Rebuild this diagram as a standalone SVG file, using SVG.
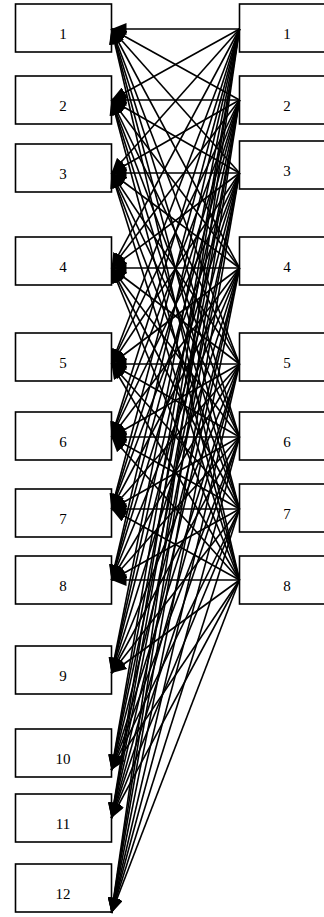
<svg xmlns="http://www.w3.org/2000/svg" width="324" height="917" viewBox="0 0 324 917">
<style>
.box rect{fill:#fff;stroke:#000;stroke-width:1.6}
.box text{font-family:"Liberation Serif","Times New Roman",serif;font-size:15px;text-anchor:middle;fill:#000}
#connectors line{stroke:#000;stroke-width:1.6;marker-end:url(#arr)}
</style>
<defs>
<marker id="arr" markerUnits="userSpaceOnUse" markerWidth="16" markerHeight="12" refX="15" refY="6" orient="auto">
<path d="M0,0 L15,6 L0,12 z" fill="#000"/>
</marker>
</defs>
<g id="nodes">
<g id="L1" class="box"><rect x="15.5" y="4" width="96" height="48"/><text x="63" y="39">1</text></g>
<g id="L2" class="box"><rect x="15.5" y="76" width="96" height="48"/><text x="63" y="111">2</text></g>
<g id="L3" class="box"><rect x="15.5" y="144" width="96" height="48"/><text x="63" y="179">3</text></g>
<g id="L4" class="box"><rect x="15.5" y="237" width="96" height="48"/><text x="63" y="272">4</text></g>
<g id="L5" class="box"><rect x="15.5" y="333" width="96" height="48"/><text x="63" y="368">5</text></g>
<g id="L6" class="box"><rect x="15.5" y="412" width="96" height="48"/><text x="63" y="447">6</text></g>
<g id="L7" class="box"><rect x="15.5" y="489" width="96" height="48"/><text x="63" y="524">7</text></g>
<g id="L8" class="box"><rect x="15.5" y="556" width="96" height="48"/><text x="63" y="591">8</text></g>
<g id="L9" class="box"><rect x="15.5" y="646" width="96" height="48"/><text x="63" y="681">9</text></g>
<g id="L10" class="box"><rect x="15.5" y="729" width="96" height="48"/><text x="63" y="764">10</text></g>
<g id="L11" class="box"><rect x="15.5" y="794" width="96" height="48"/><text x="63" y="829">11</text></g>
<g id="L12" class="box"><rect x="15.5" y="864" width="96" height="48"/><text x="63" y="899">12</text></g>
<g id="R1" class="box"><rect x="239.5" y="4" width="96" height="48"/><text x="287" y="39">1</text></g>
<g id="R2" class="box"><rect x="239.5" y="76" width="96" height="48"/><text x="287" y="111">2</text></g>
<g id="R3" class="box"><rect x="239.5" y="141" width="96" height="48"/><text x="287" y="176">3</text></g>
<g id="R4" class="box"><rect x="239.5" y="237" width="96" height="48"/><text x="287" y="272">4</text></g>
<g id="R5" class="box"><rect x="239.5" y="333" width="96" height="48"/><text x="287" y="368">5</text></g>
<g id="R6" class="box"><rect x="239.5" y="412" width="96" height="48"/><text x="287" y="447">6</text></g>
<g id="R7" class="box"><rect x="239.5" y="484" width="96" height="48"/><text x="287" y="519">7</text></g>
<g id="R8" class="box"><rect x="239.5" y="556" width="96" height="48"/><text x="287" y="591">8</text></g>
</g>
<g id="connectors">
<line x1="239.5" y1="29" x2="111.5" y2="29"/><line x1="239.5" y1="29" x2="111.5" y2="100"/><line x1="239.5" y1="29" x2="111.5" y2="173"/><line x1="239.5" y1="29" x2="111.5" y2="268"/><line x1="239.5" y1="29" x2="111.5" y2="364"/><line x1="239.5" y1="29" x2="111.5" y2="437"/><line x1="239.5" y1="29" x2="111.5" y2="509"/><line x1="239.5" y1="29" x2="111.5" y2="580"/><line x1="239.5" y1="29" x2="111.5" y2="673"/><line x1="239.5" y1="29" x2="111.5" y2="770"/><line x1="239.5" y1="29" x2="111.5" y2="818"/><line x1="239.5" y1="29" x2="111.5" y2="913"/>
<line x1="239.5" y1="100" x2="111.5" y2="29"/><line x1="239.5" y1="100" x2="111.5" y2="100"/><line x1="239.5" y1="100" x2="111.5" y2="173"/><line x1="239.5" y1="100" x2="111.5" y2="268"/><line x1="239.5" y1="100" x2="111.5" y2="364"/><line x1="239.5" y1="100" x2="111.5" y2="437"/><line x1="239.5" y1="100" x2="111.5" y2="509"/><line x1="239.5" y1="100" x2="111.5" y2="580"/><line x1="239.5" y1="100" x2="111.5" y2="673"/><line x1="239.5" y1="100" x2="111.5" y2="770"/><line x1="239.5" y1="100" x2="111.5" y2="818"/><line x1="239.5" y1="100" x2="111.5" y2="913"/>
<line x1="239.5" y1="173" x2="111.5" y2="29"/><line x1="239.5" y1="173" x2="111.5" y2="100"/><line x1="239.5" y1="173" x2="111.5" y2="173"/><line x1="239.5" y1="173" x2="111.5" y2="268"/><line x1="239.5" y1="173" x2="111.5" y2="364"/><line x1="239.5" y1="173" x2="111.5" y2="437"/><line x1="239.5" y1="173" x2="111.5" y2="509"/><line x1="239.5" y1="173" x2="111.5" y2="580"/><line x1="239.5" y1="173" x2="111.5" y2="673"/><line x1="239.5" y1="173" x2="111.5" y2="770"/><line x1="239.5" y1="173" x2="111.5" y2="818"/><line x1="239.5" y1="173" x2="111.5" y2="913"/>
<line x1="239.5" y1="268" x2="111.5" y2="29"/><line x1="239.5" y1="268" x2="111.5" y2="100"/><line x1="239.5" y1="268" x2="111.5" y2="173"/><line x1="239.5" y1="268" x2="111.5" y2="268"/><line x1="239.5" y1="268" x2="111.5" y2="364"/><line x1="239.5" y1="268" x2="111.5" y2="437"/><line x1="239.5" y1="268" x2="111.5" y2="509"/><line x1="239.5" y1="268" x2="111.5" y2="580"/><line x1="239.5" y1="268" x2="111.5" y2="673"/><line x1="239.5" y1="268" x2="111.5" y2="770"/><line x1="239.5" y1="268" x2="111.5" y2="818"/><line x1="239.5" y1="268" x2="111.5" y2="913"/>
<line x1="239.5" y1="364" x2="111.5" y2="29"/><line x1="239.5" y1="364" x2="111.5" y2="100"/><line x1="239.5" y1="364" x2="111.5" y2="173"/><line x1="239.5" y1="364" x2="111.5" y2="268"/><line x1="239.5" y1="364" x2="111.5" y2="364"/><line x1="239.5" y1="364" x2="111.5" y2="437"/><line x1="239.5" y1="364" x2="111.5" y2="509"/><line x1="239.5" y1="364" x2="111.5" y2="580"/><line x1="239.5" y1="364" x2="111.5" y2="673"/><line x1="239.5" y1="364" x2="111.5" y2="770"/><line x1="239.5" y1="364" x2="111.5" y2="818"/><line x1="239.5" y1="364" x2="111.5" y2="913"/>
<line x1="239.5" y1="437" x2="111.5" y2="29"/><line x1="239.5" y1="437" x2="111.5" y2="100"/><line x1="239.5" y1="437" x2="111.5" y2="173"/><line x1="239.5" y1="437" x2="111.5" y2="268"/><line x1="239.5" y1="437" x2="111.5" y2="364"/><line x1="239.5" y1="437" x2="111.5" y2="437"/><line x1="239.5" y1="437" x2="111.5" y2="509"/><line x1="239.5" y1="437" x2="111.5" y2="580"/><line x1="239.5" y1="437" x2="111.5" y2="673"/><line x1="239.5" y1="437" x2="111.5" y2="770"/><line x1="239.5" y1="437" x2="111.5" y2="818"/><line x1="239.5" y1="437" x2="111.5" y2="913"/>
<line x1="239.5" y1="509" x2="111.5" y2="29"/><line x1="239.5" y1="509" x2="111.5" y2="100"/><line x1="239.5" y1="509" x2="111.5" y2="173"/><line x1="239.5" y1="509" x2="111.5" y2="268"/><line x1="239.5" y1="509" x2="111.5" y2="364"/><line x1="239.5" y1="509" x2="111.5" y2="437"/><line x1="239.5" y1="509" x2="111.5" y2="509"/><line x1="239.5" y1="509" x2="111.5" y2="580"/><line x1="239.5" y1="509" x2="111.5" y2="673"/><line x1="239.5" y1="509" x2="111.5" y2="770"/><line x1="239.5" y1="509" x2="111.5" y2="818"/><line x1="239.5" y1="509" x2="111.5" y2="913"/>
<line x1="239.5" y1="580" x2="111.5" y2="29"/><line x1="239.5" y1="580" x2="111.5" y2="100"/><line x1="239.5" y1="580" x2="111.5" y2="173"/><line x1="239.5" y1="580" x2="111.5" y2="268"/><line x1="239.5" y1="580" x2="111.5" y2="364"/><line x1="239.5" y1="580" x2="111.5" y2="437"/><line x1="239.5" y1="580" x2="111.5" y2="509"/><line x1="239.5" y1="580" x2="111.5" y2="580"/><line x1="239.5" y1="580" x2="111.5" y2="673"/><line x1="239.5" y1="580" x2="111.5" y2="770"/><line x1="239.5" y1="580" x2="111.5" y2="818"/><line x1="239.5" y1="580" x2="111.5" y2="913"/>
</g>
</svg>
